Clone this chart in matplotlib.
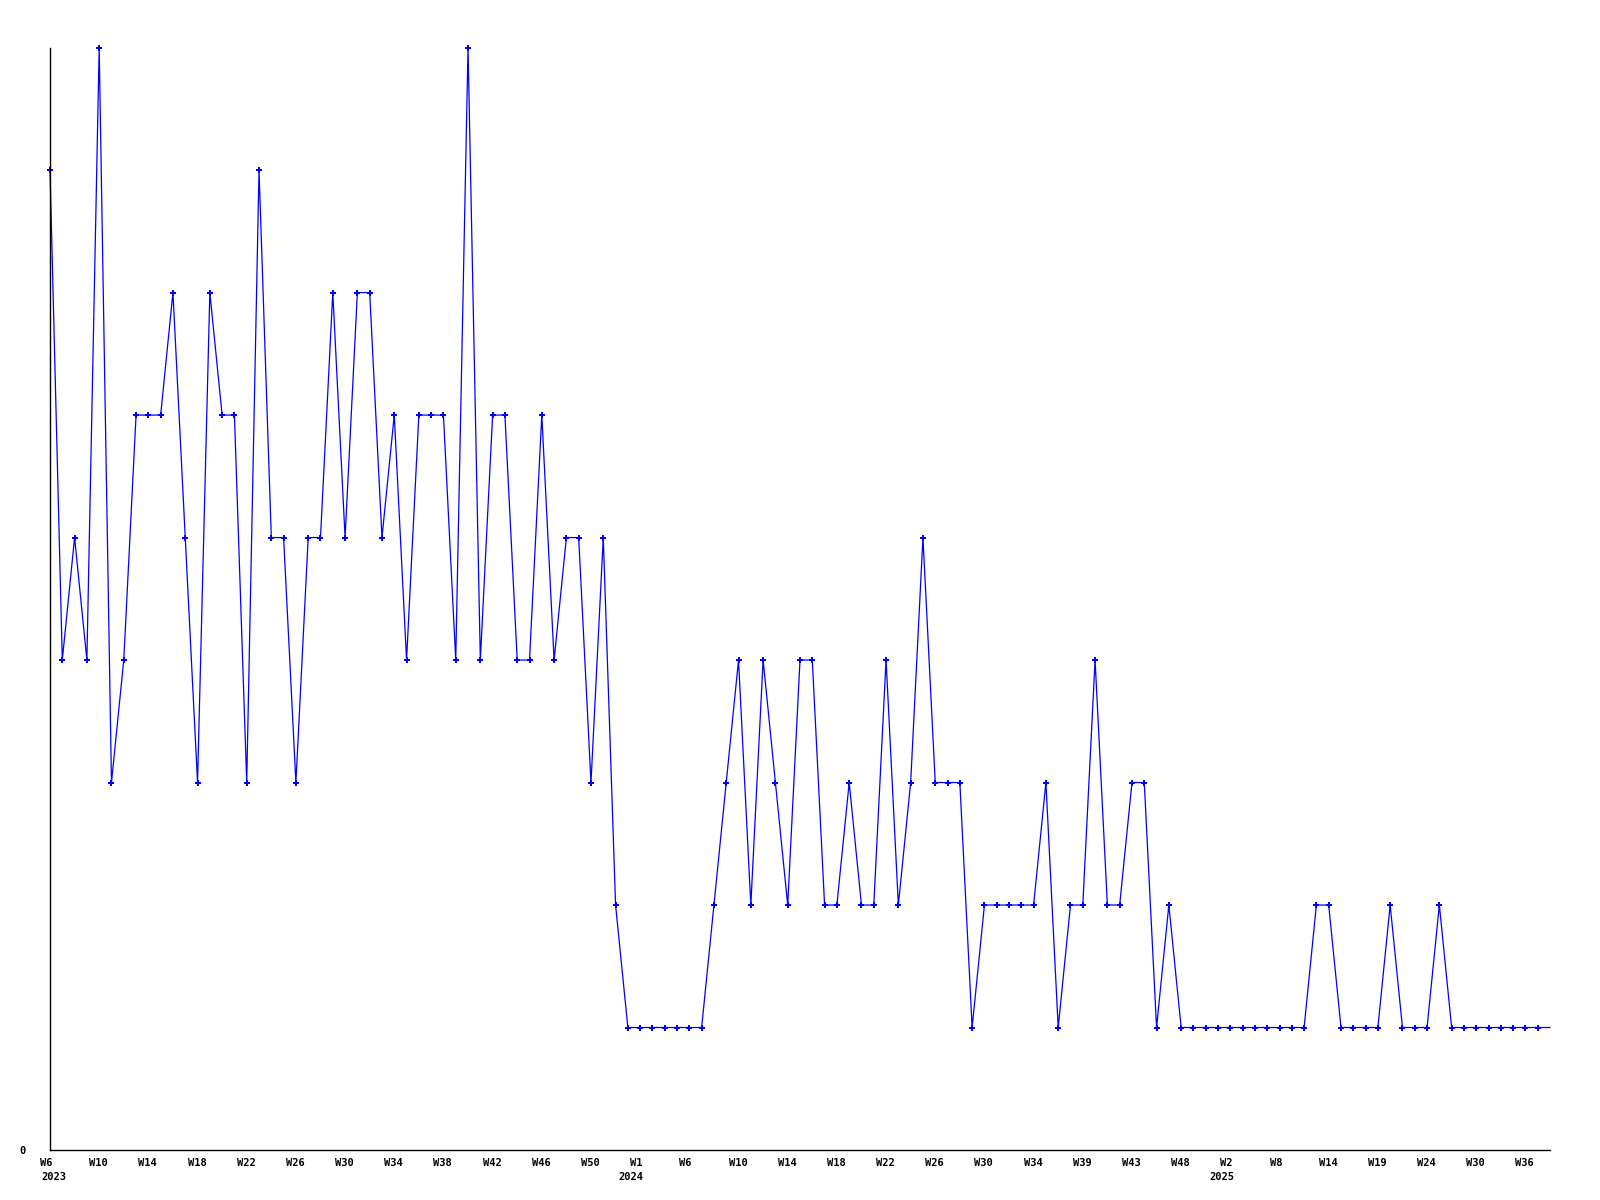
import matplotlib
matplotlib.use("Agg")
import matplotlib.pyplot as plt
import matplotlib.transforms as mtransforms

# weekly counts, W6 2023 onwards (one value per week point)
values = [8, 4, 5, 4, 9, 3, 4, 6, 6, 6,
          7, 5, 3, 7, 6, 6, 3, 8, 5, 5,
          3, 5, 5, 7, 5, 7, 7, 5, 6, 4,
          6, 6, 6, 4, 9, 4, 6, 6, 4, 4,
          6, 4, 5, 5, 3, 5, 2, 1, 1, 1,
          1, 1, 1, 1, 2, 3, 4, 2, 4, 3,
          2, 4, 4, 2, 2, 3, 2, 2, 4, 2,
          3, 5, 3, 3, 3, 1, 2, 2, 2, 2,
          2, 3, 1, 2, 2, 4, 2, 2, 3, 3,
          1, 2, 1, 1, 1, 1, 1, 1, 1, 1,
          1, 1, 1, 2, 2, 1, 1, 1, 1, 2,
          1, 1, 1, 2, 1, 1, 1, 1, 1, 1,
          1, 1, 1]

week_labels = ["W6", "W10", "W14", "W18", "W22", "W26", "W30", "W34", "W38",
               "W42", "W46", "W50", "W1", "W6", "W10", "W14", "W18", "W22",
               "W26", "W30", "W34", "W39", "W43", "W48", "W2", "W8", "W14",
               "W19", "W24", "W30", "W36"]
year_pos = [0, 48, 96]
year_text = ["2023", "2024", "2025"]
year_shift_px = [3.5, -9.5, -8]   # small nudges of the year captions

x = list(range(len(values)))
font = {"family": "DejaVu Sans Mono", "weight": "bold", "size": 7.5}

fig = plt.figure(figsize=(16, 12), dpi=100)
ax = fig.add_axes([50 / 1600, 1 - 1150 / 1200, 1500 / 1600, (1150 - 47.6) / 1200])

# last point is the current (partial) week: drawn without a marker
ax.plot(x, values, color="#0000ff", lw=0.9, marker="P", ms=4.2, mew=0,
        markevery=list(range(len(values) - 1)), clip_on=False)

ax.set_xlim(0, len(values) - 1)
ax.set_ylim(0, 9)

ax.spines["top"].set_visible(False)
ax.spines["right"].set_visible(False)
ax.spines["left"].set_linewidth(1)
ax.spines["bottom"].set_linewidth(1)

ax.set_xticks(range(0, 4 * len(week_labels), 4))
ax.set_xticklabels(week_labels, fontdict=font)
ax.tick_params(axis="x", length=0, pad=6)
shift = mtransforms.ScaledTranslation(-10 / 100, 0, fig.dpi_scale_trans)
for lab in ax.get_xticklabels():
    lab.set_ha("left")
    lab.set_transform(lab.get_transform() + shift)

ax.set_yticks([0])
ax.set_yticklabels(["0"], fontdict=font)
ax.tick_params(axis="y", length=0, pad=17.5)

trans = mtransforms.blended_transform_factory(ax.transData, ax.transAxes)
for pos, yr, dx in zip(year_pos, year_text, year_shift_px):
    t = trans + mtransforms.ScaledTranslation(dx / 100, 0, fig.dpi_scale_trans)
    ax.text(pos, -27 / 1102, yr, transform=t, ha="center", va="center", **font)

fig.savefig("out.png", dpi=100)
